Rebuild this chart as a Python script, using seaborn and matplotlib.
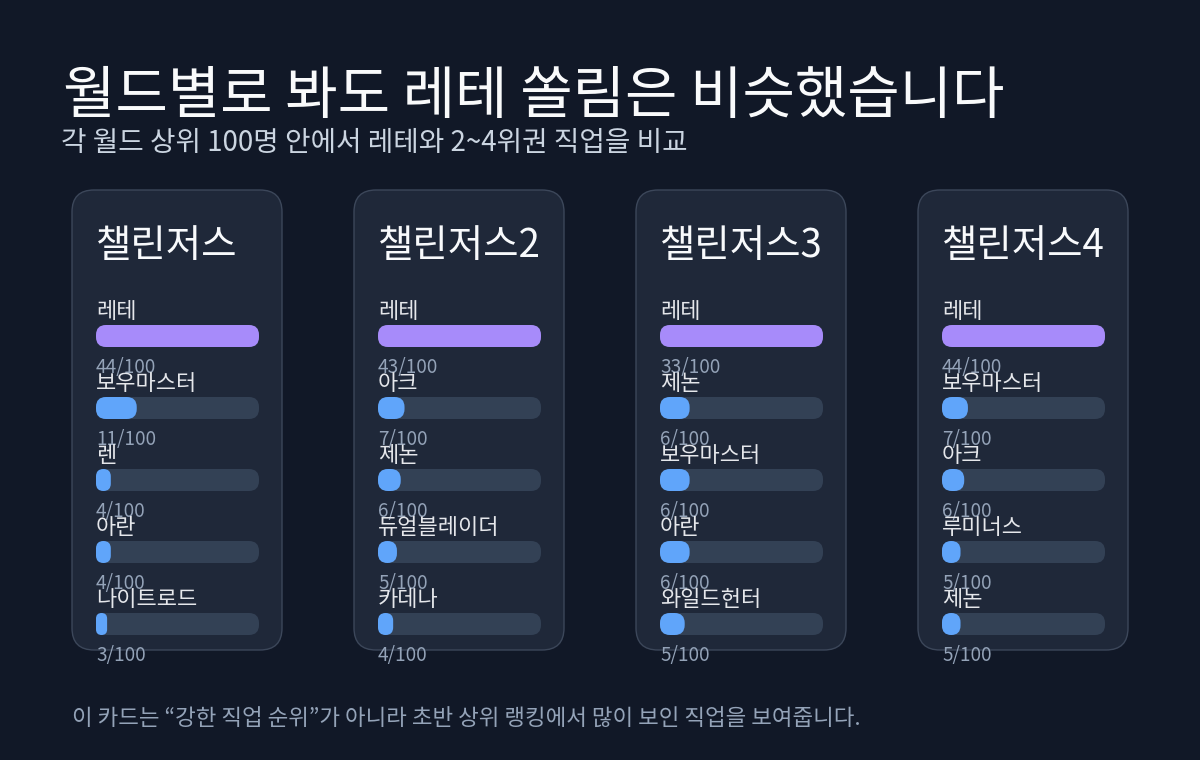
import matplotlib
matplotlib.use("Agg")
import matplotlib.pyplot as plt
from matplotlib.patches import FancyBboxPatch
import seaborn as sns

# ---------------------------------
# DATA
# ---------------------------------

worlds = ["챌린저스", "챌린저스2", "챌린저스3", "챌린저스4"]

jobs_1 = ["레테", "보우마스터", "렌", "아란", "나이트로드"]
counts_1 = [44, 11, 4, 4, 3]

jobs_2 = ["레테", "아크", "제논", "듀얼블레이더", "카데나"]
counts_2 = [43, 7, 6, 5, 4]

jobs_3 = ["레테", "제논", "보우마스터", "아란", "와일드헌터"]
counts_3 = [33, 6, 6, 6, 5]

jobs_4 = ["레테", "보우마스터", "아크", "루미너스", "제논"]
counts_4 = [44, 7, 6, 5, 5]

top_n = 100

title = "월드별로 봐도 레테 쏠림은 비슷했습니다"
subtitle = "각 월드 상위 100명 안에서 레테와 2~4위권 직업을 비교"
footer = "이 카드는 “강한 직업 순위”가 아니라 초반 상위 랭킹에서 많이 보인 직업을 보여줍니다."

# ---------------------------------
# STYLE
# ---------------------------------

BG = "#111827"
CARD = "#1f2839"
CARD_EDGE = "#3c475a"
TRACK = "#334155"
LEAD = "#a78bfa"
OTHER = "#60a5fa"

sns.set_theme(style="dark")
plt.rcParams["font.family"] = ["Noto Sans CJK KR", "DejaVu Sans"]

W, H = 1200, 760
PT = 0.72  # px -> pt at dpi 100

fig = plt.figure(figsize=(12, 7.6), dpi=100)
fig.patch.set_facecolor(BG)

bg = fig.add_axes([0, 0, 1, 1])
bg.set_xlim(0, W)
bg.set_ylim(H, 0)
bg.axis("off")
bg.set_facecolor(BG)

bg.text(63, 97, title, fontsize=57 * PT, color="#f9fafb", va="center", ha="left")
bg.text(61, 143, subtitle, fontsize=27.7 * PT, color="#cbd5e1", va="center", ha="left")
bg.text(72, 718, footer, fontsize=22.4 * PT, color="#94a3b8", va="center", ha="left")

# ---------------------------------
# CARDS
# ---------------------------------

card_x = [72, 354, 636, 918]
card_w, card_top, card_bottom = 210, 190, 650
track_w = 163
row_px = 72
bar_px = 22

all_jobs = [jobs_1, jobs_2, jobs_3, jobs_4]
all_counts = [counts_1, counts_2, counts_3, counts_4]


def round_bars(ax, xmax):
    # swap seaborn's rectangles for rounded ones
    px_x = track_w / xmax
    aspect = px_x / row_px
    for p in list(ax.patches):
        x, y = p.get_x(), p.get_y()
        w, h = p.get_width(), p.get_height()
        r_px = min(10, w * px_x / 2, h * row_px / 2)
        fb = FancyBboxPatch(
            (x, y), w, h,
            boxstyle=f"round,pad=0,rounding_size={r_px / px_x}",
            mutation_aspect=aspect,
            facecolor=p.get_facecolor(), edgecolor="none",
            zorder=p.get_zorder(),
        )
        p.remove()
        ax.add_patch(fb)


for i, (name, jobs, counts) in enumerate(zip(worlds, all_jobs, all_counts)):
    cx = card_x[i]
    bg.add_patch(FancyBboxPatch(
        (cx, card_top), card_w, card_bottom - card_top,
        boxstyle="round,pad=0,rounding_size=22",
        facecolor=CARD, edgecolor=CARD_EDGE, linewidth=1,
    ))
    bg.text(cx + 24, 246, name, fontsize=38.5 * PT, color="#f8fafc",
            va="center", ha="left")

    left = cx + 24
    top = 336 - row_px / 2
    ax = fig.add_axes([left / W, 1 - (top + row_px * 5) / H,
                       track_w / W, row_px * 5 / H])
    ax.set_facecolor("none")

    xmax = max(counts)
    sns.barplot(x=[xmax] * len(jobs), y=jobs, orient="h", color=TRACK,
                width=bar_px / row_px, saturation=1, ax=ax)
    colors = [LEAD] + [OTHER] * (len(jobs) - 1)
    sns.barplot(x=counts, y=jobs, hue=jobs, palette=colors, orient="h",
                width=bar_px / row_px, saturation=1, legend=False, ax=ax)

    ax.set_xlim(0, xmax)
    ax.set_ylim(len(jobs) - 0.5, -0.5)
    ax.axis("off")
    round_bars(ax, xmax)

    for k, (job, c) in enumerate(zip(jobs, counts)):
        ax.text(0, k - 24 / row_px, job, fontsize=22 * PT, color="#e5e7eb",
                va="center", ha="left")
        ax.text(0, k + 31 / row_px, f"{c}/{top_n}", fontsize=19 * PT,
                color="#94a3b8", va="center", ha="left", clip_on=False)

fig.savefig("out.png", dpi=100, facecolor=BG)
